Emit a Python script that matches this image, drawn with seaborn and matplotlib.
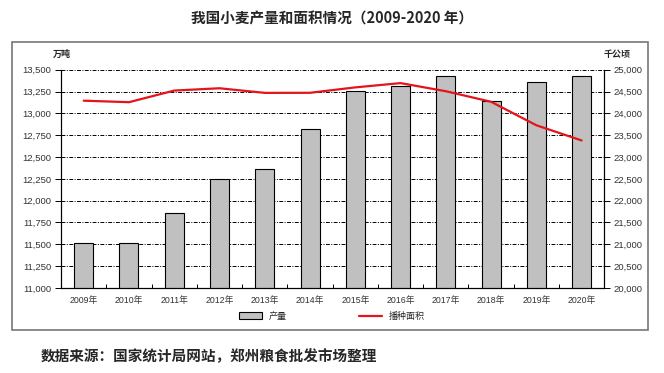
import numpy as np
import pandas as pd
import seaborn as sns
import matplotlib.pyplot as plt
from matplotlib.patches import Rectangle, Patch
from matplotlib.lines import Line2D
from matplotlib.ticker import FuncFormatter

# data
years = ['2009年', '2010年', '2011年', '2012年', '2013年', '2014年',
         '2015年', '2016年', '2017年', '2018年', '2019年', '2020年']
output = [11512, 11518, 11863, 12248, 12364, 12824, 13256, 13319, 13424, 13144, 13360, 13425]  # 万吨
area = [24291, 24257, 24523, 24576, 24470, 24472, 24596, 24694, 24508, 24266, 23728, 23380]  # 千公顷

sns.set_theme(style='white')
plt.rcParams['font.family'] = ['Liberation Sans', 'Noto Sans CJK SC', 'DejaVu Sans']

df = pd.DataFrame({'year': years, 'output': output, 'area': area, 'pos': np.arange(len(years))})

fig = plt.figure(figsize=(6.64, 3.73), dpi=100)
fig.patch.set_facecolor('white')

# outer frame
fig.patches.append(Rectangle((0.018, 0.115), 0.958, 0.772, transform=fig.transFigure,
                             fill=False, edgecolor='#777777', lw=1.2))

ax = fig.add_axes([0.092, 0.228, 0.818, 0.585])
sns.barplot(data=df, x='year', y='output', color='#c0c0c0', edgecolor='black',
            linewidth=0.8, width=0.42, saturation=1, ax=ax)
ax.set_ylim(11000, 13500)
ax.set_yticks(np.arange(11000, 13501, 250))
ax.yaxis.set_major_formatter(FuncFormatter(lambda v, p: f'{int(v):,}'))
ax.set_xlim(-0.5, len(years) - 0.5)
ax.set_xlabel('')
ax.set_ylabel('')
# dash-dot grid, the top one replaces the top spine
for y in np.arange(11250, 13501, 250):
    ax.axhline(y, color='black', lw=0.7, ls=(0, (4, 1.5, 1, 1.5)), zorder=0, clip_on=False)
ax.set_axisbelow(True)

ax2 = ax.twinx()
sns.lineplot(data=df, x='pos', y='area', color='#e3141c', lw=1.6, ax=ax2)
ax2.set_ylim(20000, 25000)
ax2.set_yticks(np.arange(20000, 25001, 500))
ax2.yaxis.set_major_formatter(FuncFormatter(lambda v, p: f'{int(v):,}'))
ax2.set_ylabel('')
ax2.set_xlabel('')
ax.set_xlim(-0.5, len(years) - 0.5)

for a in (ax, ax2):
    for s in a.spines.values():
        s.set_color('black')
        s.set_linewidth(0.8)
    a.spines['top'].set_visible(False)
    a.tick_params(axis='y', labelsize=6.8, colors='#333333', length=4, width=0.7,
                  direction='out', pad=3)
ax.tick_params(axis='y', left=True, color='black')
ax2.tick_params(axis='y', right=True, color='black')

ax.set_xticks(np.arange(len(years)))
ax.set_xticklabels(years, fontsize=6.3, color='#333333')
ax.tick_params(axis='x', length=0, pad=6)
ax.set_xticks(np.arange(len(years)) + 0.5, minor=True)
ax.tick_params(axis='x', which='minor', length=3, width=0.7, direction='in', color='black', bottom=True)

fig.text(0.093, 0.848, '万吨', fontsize=6.5, fontweight='bold', ha='center',
         family=['Noto Sans CJK SC'])
fig.text(0.930, 0.848, '千公顷', fontsize=6.5, fontweight='bold', ha='center',
         family=['Noto Sans CJK SC'])

fig.text(0.5, 0.950, '我国小麦产量和面积情况（2009-2020 年）', fontsize=10.5, fontweight='bold',
         ha='center', va='center', family=['Noto Sans CJK SC', 'DejaVu Sans'])

handles = [Patch(facecolor='#c0c0c0', edgecolor='black', lw=0.8),
           Line2D([0], [0], color='#e3141c', lw=1.6)]
fig.legend(handles, ['产量', '播种面积'], loc='center', bbox_to_anchor=(0.5, 0.152),
           ncol=2, frameon=False, columnspacing=8, handlelength=2.5,
           handleheight=0.8, prop={'family': ['Noto Sans CJK SC'], 'size': 6.5})

fig.text(0.062, 0.045, '数据来源：国家统计局网站，郑州粮食批发市场整理', fontsize=10.5,
         fontweight='bold', ha='left', va='center', family=['Noto Sans CJK SC'])

fig.savefig('out.png', dpi=100)
